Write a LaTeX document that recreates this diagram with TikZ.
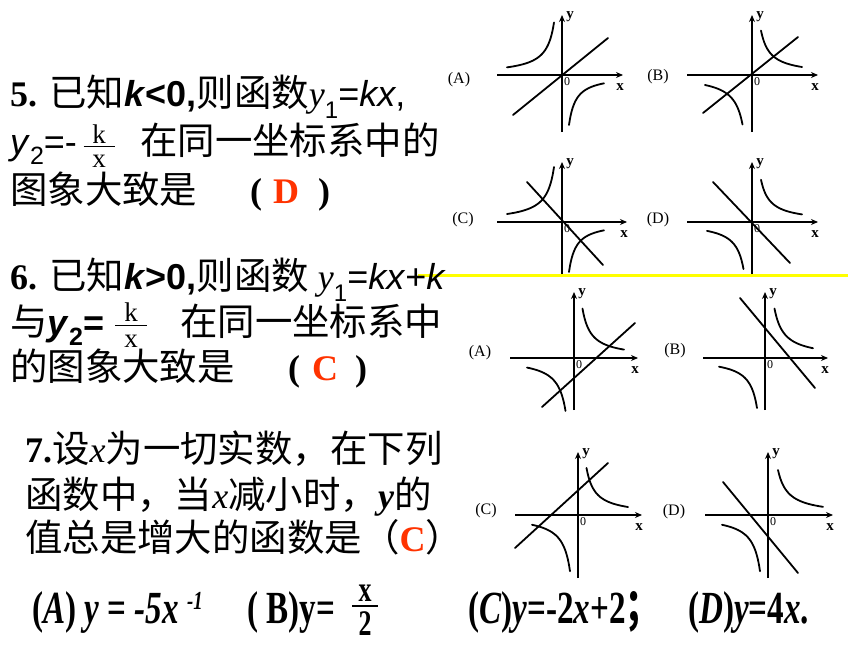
\documentclass[tikz,border=0pt]{standalone}
\usepackage{fontspec}
\setmainfont{Liberation Serif}
\setsansfont{Liberation Sans}
\newfontfamily\cjk[Scale=1.04]{Noto Sans CJK SC}
\usetikzlibrary{arrows.meta}
\definecolor{ansred}{RGB}{255,51,0}
\definecolor{hlyellow}{RGB}{255,255,0}
\tikzset{
  curve/.style={line width=1.8pt, line cap=round},
  axis/.style={line width=1.8pt, -{Stealth[length=7pt,width=6pt]}},
  glab/.style={font=\fontsize{16}{16}\selectfont, inner sep=0pt},
  axlab/.style={font=\fontsize{15}{15}\selectfont\bfseries, inner sep=0pt},
  zlab/.style={font=\fontsize{12}{12}\selectfont, inner sep=0pt},
  txt/.style={anchor=base west, inner sep=0pt, font=\fontsize{36}{40}\selectfont},
  fracnode/.style={anchor=base, inner sep=0pt, font=\fontsize{27}{27}\selectfont},
  bot/.style={anchor=base west, inner sep=0pt, font=\fontsize{46}{46}\selectfont\bfseries, xscale=0.72},
}
\newcommand\gax[5]{%
  \draw[axis] (#2,0) -- (#3,0);
  \draw[axis] (0,#4) -- (0,#5);
  \node[axlab] (#1y) at (8,#5+2) {y};
  \node[axlab] (#1x) at (#3-3,12) {x};
  \node[zlab] (#1o) at (5,7) {0};
}
\newcommand\hyp[3]{\draw[curve] plot[domain=#1:#2, samples=40, smooth] (\x,{#3/\x});}
% manual fraction: numerator, denominator, width, gap above bar, gap below bar, bar thickness
\newcommand\mfrac[6]{\vbox{\offinterlineskip
  \hbox to #3{\hss#1\hss}\kern#4\hrule height #6\kern#5\hbox to #3{\hss#2\hss}}}
\begin{document}
\begin{tikzpicture}[x=1pt,y=-1pt]
\useasboundingbox[fill=white] (0,0) rectangle (860,645);

% ---------- top graphs (question 5) ----------
\begin{scope}[shift={(562,75)}]
  \gax{ta}{-65}{61}{57}{-60}
  \draw[curve] (-49,40) -- (46,-37);
  \hyp{-55}{-8}{420}
  \hyp{7}{42}{350}
\end{scope}
\node[glab] (labTA) at (459,80) {(A)};

\begin{scope}[shift={(752,75)}]
  \gax{tb}{-65}{66}{57}{-60}
  \draw[curve] (-49,38) -- (46,-38);
  \hyp{9}{50}{-400}
  \hyp{-47}{-9.5}{-470}
\end{scope}
\node[glab] (labTB) at (658,77) {(B)};

\begin{scope}[shift={(562,222)}]
  \gax{tc}{-65}{65}{55}{-60}
  \draw[curve] (-35,-40) -- (41,43);
  \hyp{-55}{-8}{440}
  \hyp{7}{42}{350}
\end{scope}
\node[glab] (labTC) at (463,220) {(C)};

\begin{scope}[shift={(752,222)}]
  \gax{td}{-65}{66}{55}{-60}
  \draw[curve] (-39,-40) -- (38,41);
  \hyp{9}{50}{-380}
  \hyp{-45}{-8.5}{-400}
\end{scope}
\node[glab] (labTD) at (658,220) {(D)};

% yellow rule
\coordinate (hlL) at (418,275);
\coordinate (hlR) at (848,275);
\draw[hlyellow, line width=3pt] (hlL) -- (hlR);

% ---------- middle graphs (question 6) ----------
\begin{scope}[shift={(574,358)}]
  \gax{ma}{-64}{64}{52}{-66}
  \draw[curve] (-32,49) -- (61,-35);
  \hyp{8.5}{50}{-420}
  \hyp{-47}{-8.5}{-450}
\end{scope}
\node[glab] (labMA) at (480,353) {(A)};

\begin{scope}[shift={(765,358)}]
  \gax{mb}{-62}{63}{52}{-66}
  \draw[curve] (-25,-60) -- (50,30);
  \hyp{9.5}{48}{-470}
  \hyp{-46}{-8}{-400}
\end{scope}
\node[glab] (labMB) at (675,351) {(B)};

% ---------- lower graphs (question 7) ----------
\begin{scope}[shift={(578,515)}]
  \gax{lc}{-63}{64}{63}{-63}
  \draw[curve] (-63,33) -- (30,-52);
  \hyp{8.5}{50}{-400}
  \hyp{-46}{-8}{-450}
\end{scope}
\node[glab] (labLC) at (486,511) {(C)};

\begin{scope}[shift={(768,515)}]
  \gax{ld}{-63}{65}{63}{-63}
  \draw[curve] (-45,-33) -- (30,58);
  \hyp{10}{55}{-450}
  \hyp{-46}{-8}{-450}
\end{scope}
\node[glab] (labLD) at (674,512) {(D)};

% ---------- question 5 text ----------
\node[txt] (q5a) at (10,106) {\textbf{5.} {\cjk 已知}\textsf{\textbf{\textit{k}<0,}}{\cjk 则函数}\textit{y}\raisebox{-12pt}{\fontsize{24}{24}\selectfont\sffamily 1}\textsf{=\textit{kx},}};
\node[txt] (q5b) at (10,154) {\textsf{\textit{y}\raisebox{-10pt}{\fontsize{25}{25}\selectfont 2}=-}};
\node[fracnode] (f5) at (99,167) {\mfrac{k}{x}{31pt}{2.5pt}{7.5pt}{1pt}};
\node[txt] (q5c) at (140,154) {\cjk 在同一坐标系中的};
\node[txt] (q5d) at (10,203) {\cjk 图象大致是};
\node[txt] (q5p1) at (250,203) {\textbf{(}};
\node[txt, text=ansred] (q5ans) at (273,203) {\textbf{D}};
\node[txt] (q5p2) at (318,203) {\textbf{)}};

% ---------- question 6 text ----------
\node[txt] (q6a) at (10,289) {\textbf{6.} {\cjk 已知}\textsf{\textbf{\textit{k}>0,}}{\cjk 则函数} \textit{y}\raisebox{-12pt}{\fontsize{24}{24}\selectfont\sffamily 1}\textsf{=\textit{kx}+\textit{k}}};
\node[txt] (q6b) at (10,335) {{\cjk 与}\textsf{\textbf{\textit{y}\raisebox{-10pt}{\fontsize{25}{25}\selectfont 2}=}}};
\node[fracnode] (f6) at (131,347) {\mfrac{k}{x}{32pt}{3.5pt}{8.5pt}{1pt}};
\node[txt] (q6c) at (180,335) {\cjk 在同一坐标系中};
\node[txt] (q6d) at (10,380) {\cjk 的图象大致是};
\node[txt] (q6p1) at (288,380) {\textbf{(}};
\node[txt, text=ansred] (q6ans) at (312,380) {\textbf{C}};
\node[txt] (q6p2) at (355,380) {\textbf{)}};

% ---------- question 7 text ----------
\node[txt] (q7a) at (25,462) {\textbf{7.}{\cjk 设}\textit{x}{\cjk 为一切实数，在下列}};
\node[txt] (q7b) at (25,508) {{\cjk 函数中，当}\textit{x}{\cjk 减小时，}\textit{\textbf{y}}{\cjk 的}};
\node[txt] (q7c) at (25,551) {{\cjk 值总是增大的函数是（}\textcolor{ansred}{\textbf{C}}{\cjk ）}};

% ---------- options ----------
\node[bot] (oA) at (32,623) {(\textit{A}) \textit{y} = \textit{-5x} \raisebox{14pt}{\fontsize{26}{26}\selectfont\textit{-1}}};
\node[bot] (oB) at (247,623) {( B)y=};
\node[anchor=base, inner sep=0pt, font=\fontsize{36}{36}\selectfont\bfseries, xscale=0.72] (fB) at (365,635) {\mfrac{x}{2}{36pt}{4pt}{4pt}{2pt}};
\node[bot] (oC) at (468,623) {(\textit{C})\textit{y}=-2\textit{x}+2{\cjk ；}};
\node[bot] (oD) at (688,623) {(\textit{D})\textit{y}=4\textit{x}.};
\end{tikzpicture}
\end{document}
